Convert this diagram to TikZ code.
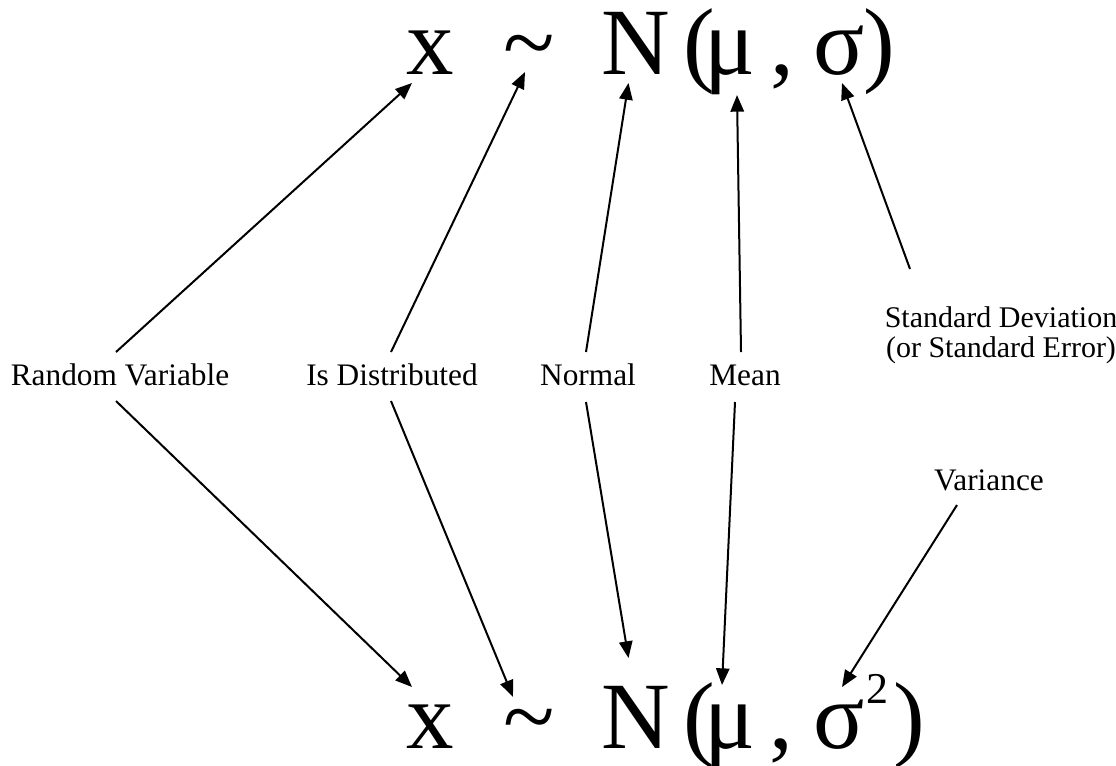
\documentclass[tikz,border=0pt]{standalone}
\usepackage{fontspec}
\setmainfont{Liberation Serif}
\usetikzlibrary{arrows.meta}
\begin{document}
\begin{tikzpicture}[x=0.75pt,y=-0.75pt,
  big/.style={font=\fontsize{71.25pt}{80pt}\selectfont, inner sep=0pt, anchor=base west},
  supscr/.style={font=\fontsize{33pt}{36pt}\selectfont, inner sep=0pt, anchor=base west},
  lab/.style={font=\fontsize{23.5pt}{26pt}\selectfont, inner sep=0pt, anchor=base},
  labsm/.style={font=\fontsize{22.5pt}{26pt}\selectfont, inner sep=0pt, anchor=base},
  arr/.style={line width=1.5pt, -{Triangle[length=12.5pt,width=10pt]}}]
\useasboundingbox (0,0) rectangle (1116,765);
% top formula
\node[big] (tx) at (406,74) {x};
\node[big] (ttilde) at (503,74) {\char`\~};
\node[big] (tN) at (601.5,74) {N};
\node[big] (tlp) at (683,74) {(};
\node[big] (tmu) at (704,74) {μ};
\node[big] (tcomma) at (770,74) {,};
\node[big] (tsigma) at (813,74) {σ};
\node[big] (trp) at (863,74) {)};
% bottom formula
\node[big] (bx) at (406,748) {x};
\node[big] (btilde) at (503,748) {\char`\~};
\node[big] (bN) at (601.5,748) {N};
\node[big] (blp) at (683,748) {(};
\node[big] (bmu) at (704,748) {μ};
\node[big] (bcomma) at (769,748) {,};
\node[big] (bsigma) at (813,748) {σ};
\node[supscr] (bsq) at (866,703) {2};
\node[big] (brp) at (893,748) {)};
% labels
\node[lab] (rv) at (120,385) {Random Variable};
\node[lab] (isd) at (392,385) {Is Distributed};
\node[lab] (nor) at (588,385) {Normal};
\node[lab] (mean) at (745,385) {Mean};
\node[labsm] (sd1) at (1001,327) {Standard Deviation};
\node[labsm] (sd2) at (1001,357) {(or Standard Error)};
\node[lab] (var) at (989,490) {Variance};
% top arrows
\draw[arr] ([shift={(-4,-33)}]rv.base) -- ([shift={(6,9)}]tx.base west);
\draw[arr] ([shift={(-1,-33)}]isd.base) -- ([shift={(22,-2)}]ttilde.base west);
\draw[arr] ([shift={(-2,-33)}]nor.base) -- ([shift={(27,9)}]tN.base west);
\draw[arr] ([shift={(-4,-33)}]mean.base) -- ([shift={(33,21)}]tmu.base west);
\draw[arr] ([shift={(-91,-58)}]sd1.base) -- ([shift={(29,9)}]tsigma.base west);
% bottom arrows
\draw[arr] ([shift={(-4,16)}]rv.base) -- ([shift={(6,-61)}]bx.base west);
\draw[arr] ([shift={(-1,16)}]isd.base) -- ([shift={(10,-51)}]btilde.base west);
\draw[arr] ([shift={(-2,17)}]nor.base) -- ([shift={(27,-90)}]bN.base west);
\draw[arr] ([shift={(-10,17)}]mean.base) -- ([shift={(18,-63)}]bmu.base west);
\draw[arr] ([shift={(-32,15)}]var.base) -- ([shift={(29,-61)}]bsigma.base west);
\end{tikzpicture}
\end{document}
